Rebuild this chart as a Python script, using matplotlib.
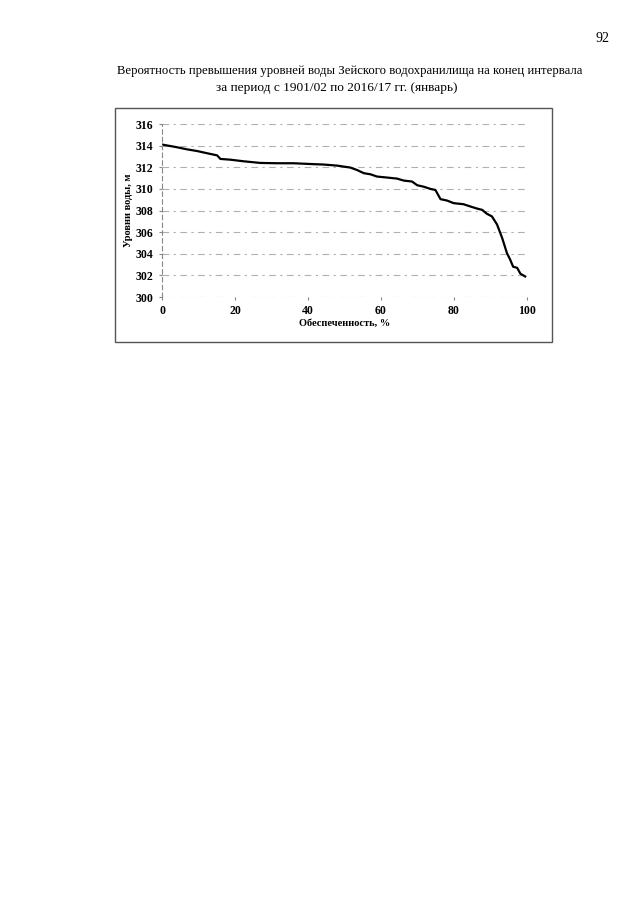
import matplotlib.pyplot as plt
from matplotlib.patches import Rectangle

# обеспеченность, % и уровни воды, м
prob = [0, 4.1, 6.8, 9.6, 12.3, 15.1, 16.0, 18.7, 22.4, 26.9, 31.5, 36.0, 40.6, 44.3,
        48.0, 51.6, 53.4, 55.3, 57.1, 58.9, 61.6, 64.4, 66.2, 68.5, 69.9, 71.7, 73.5,
        74.9, 76.3, 78.1, 79.9, 82.6, 84.5, 86.3, 87.7, 89.0, 90.4, 91.8, 93.2, 94.5,
        95.4, 96.2, 97.3, 98.2, 99.5]
level = [314.1, 313.85, 313.66, 313.5, 313.3, 313.1, 312.77, 312.7, 312.55, 312.4, 312.37,
         312.37, 312.3, 312.25, 312.15, 311.97, 311.75, 311.45, 311.35, 311.14, 311.05,
         310.95, 310.77, 310.68, 310.34, 310.2, 310.0, 309.9, 309.05, 308.92, 308.68,
         308.58, 308.37, 308.18, 308.06, 307.7, 307.45, 306.7, 305.45, 304.06, 303.45,
         302.8, 302.7, 302.15, 301.9]

x_ticks = [0, 20, 40, 60, 80, 100]
y_ticks = [300, 302, 304, 306, 308, 310, 312, 314, 316]

plt.rcParams['font.family'] = ['Liberation Serif', 'DejaVu Serif']

fig = plt.figure(figsize=(6.4, 9.05), dpi=100)

# рамка диаграммы
fig.patches.append(Rectangle((115 / 640, 1 - 342 / 905), 437 / 640, 234 / 905,
                             transform=fig.transFigure, fill=False,
                             edgecolor='#555555', linewidth=1.0))

ax = fig.add_axes([162 / 640, 1 - 297 / 905, 365 / 640, 173 / 905])

# построение кривой
ax.plot(prob, level, color='black', linewidth=1.6)

ax.set_xlim(0, 100)
ax.set_ylim(300, 316)
ax.set_xticks(x_ticks)
ax.set_yticks(y_ticks)
ax.tick_params(labelsize=8.5, length=2, color='#888888', pad=4)
for lbl in ax.get_xticklabels() + ax.get_yticklabels():
    lbl.set_fontweight('bold')

# сетка
ax.grid(True, axis='y', color='#b0b0b0', linestyle=(0, (6, 4, 2, 4)), linewidth=0.8)
for side in ['top', 'right', 'bottom']:
    ax.spines[side].set_visible(False)
ax.spines['left'].set_color('#888888')
ax.spines['left'].set_linestyle((0, (4, 3)))
ax.spines['left'].set_linewidth(0.8)

ax.set_xlabel('Обеспеченность, %', fontsize=7.5, fontweight='bold', labelpad=1)
ax.set_ylabel('Уровни воды, м', fontsize=7.5, fontweight='bold', labelpad=2)

# заголовок
fig.text(350 / 640, 1 - 71 / 905,
         'Вероятность превышения уровней воды Зейского водохранилища на конец интервала',
         ha='center', va='center', fontsize=9.2)
fig.text(337 / 640, 1 - 88 / 905, 'за период с 1901/02 по 2016/17 гг. (январь)',
         ha='center', va='center', fontsize=9.6)

# номер страницы
fig.text(603 / 640, 1 - 39 / 905, '92', ha='center', va='center', fontsize=10)

plt.savefig('out.png', dpi=100)
